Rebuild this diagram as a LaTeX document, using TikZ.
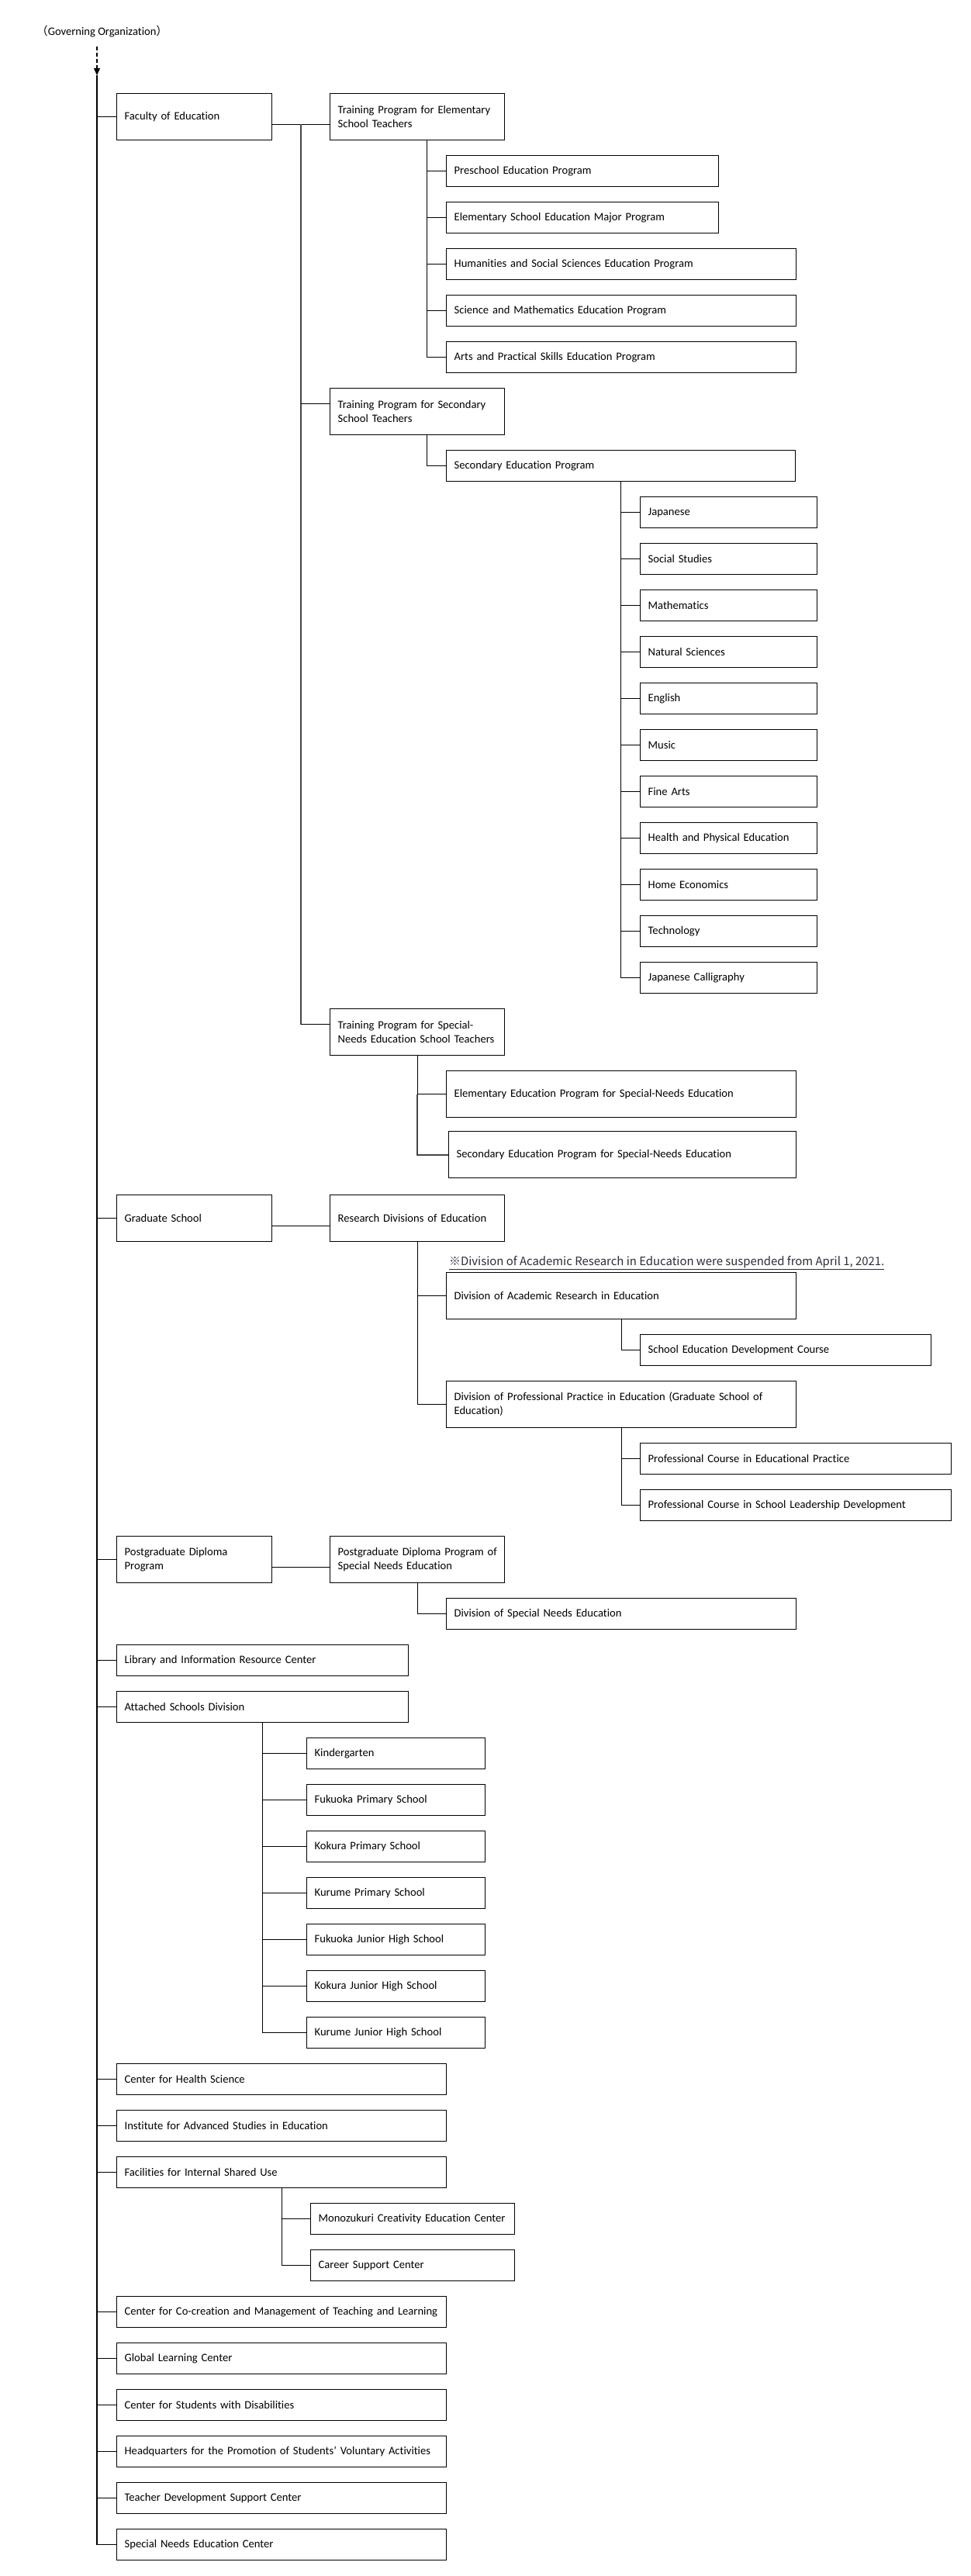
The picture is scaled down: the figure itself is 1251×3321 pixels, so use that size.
\documentclass[tikz,border=0pt]{standalone}
\usepackage{fontspec}
\setmainfont{Carlito}[Ligatures={NoCommon,NoContextual}]
\newfontfamily\cjk{Noto Sans CJK JP}
\usetikzlibrary{arrows.meta}
\definecolor{linegray}{RGB}{70,70,70}
\definecolor{notecol}{RGB}{45,45,60}
\tikzset{
  box/.style={draw, line width=1.3pt, inner xsep=10pt, inner ysep=0pt, anchor=north west, align=left,
    font=\fontsize{14.6}{18}\selectfont},
  link/.style={line width=1.3pt},
  glink/.style={line width=2.2pt, draw=linegray},
}
\newcommand\bx[6]{\node[box, text width=\the\numexpr#4-20\relax pt, minimum height=#5pt] (#1) at (#2,#3) {\mbox{#6}};}
\newcommand\bxx[7]{\node[box, text width=\the\numexpr#4-20\relax pt, minimum height=#5pt] (#1) at (#2,#3) {\mbox{#6}\\\mbox{#7}};}
\begin{document}
\begin{tikzpicture}[x=1pt, y=-1pt]
\fill[white] (0,0) rectangle (1251,3321);
\useasboundingbox (0,0) rectangle (1251,3321);

% governing organization
\node[anchor=west, inner sep=0pt, font=\fontsize{14.6}{18}\selectfont] (gov) at (47,41) {{\cjk （}Governing Organization{\cjk ）}};
\coordinate (gtop) at (125,60);
\coordinate (gtip) at (125,97);
\draw[link, dash pattern=on 5pt off 3pt] (gtop) -- ([yshift=9pt]gtip);
\draw[link, -{Triangle[width=8pt,length=9pt]}] ([yshift=8pt]gtip) -- (gtip);

% level 1
\bx{fac}{150}{120}{200}{60}{Faculty of Education}
\bx{grad}{150}{1540}{200}{60}{Graduate School}
\bxx{pdp}{150}{1980}{200}{60}{Postgraduate Diploma}{Program}
\bx{lib}{150}{2120}{376}{40}{Library and Information Resource Center}
\bx{asd}{150}{2180}{376}{40}{Attached Schools Division}
\bx{chs}{150}{2660}{425}{40}{Center for Health Science}
\bx{ias}{150}{2720}{425}{40}{Institute for Advanced Studies in Education}
\bx{fis}{150}{2780}{425}{40}{Facilities for Internal Shared Use}
\bx{ccm}{150}{2960}{425}{40}{Center for Co-creation and Management of Teaching and Learning}
\bx{glc}{150}{3020}{425}{40}{Global Learning Center}
\bx{csd}{150}{3080}{425}{40}{Center for Students with Disabilities}
\bx{hq}{150}{3140}{425}{40}{Headquarters for the Promotion of Students’ Voluntary Activities}
\bx{tdsc}{150}{3200}{425}{40}{Teacher Development Support Center}
\bx{snec}{150}{3260}{425}{40}{Special Needs Education Center}

% faculty of education
\bxx{te}{425}{120}{225}{60}{Training Program for Elementary}{School Teachers}
\bx{pre}{575}{200}{351}{40}{Preschool Education Program}
\bx{emp}{575}{260}{351}{40}{Elementary School Education Major Program}
\bx{hum}{575}{320}{451}{40}{Humanities and Social Sciences Education Program}
\bx{sci}{575}{380}{451}{40}{Science and Mathematics Education Program}
\bx{art}{575}{440}{451}{40}{Arts and Practical Skills Education Program}
\bxx{ts}{425}{500}{225}{60}{Training Program for Secondary}{School Teachers}
\bx{sep}{575}{580}{450}{40}{Secondary Education Program}
\bx{s1}{825}{640}{228}{40}{Japanese}
\bx{s2}{825}{700}{228}{40}{Social Studies}
\bx{s3}{825}{760}{228}{40}{Mathematics}
\bx{s4}{825}{820}{228}{40}{Natural Sciences}
\bx{s5}{825}{880}{228}{40}{English}
\bx{s6}{825}{940}{228}{40}{Music}
\bx{s7}{825}{1000}{228}{40}{Fine Arts}
\bx{s8}{825}{1060}{228}{40}{Health and Physical Education}
\bx{s9}{825}{1120}{228}{40}{Home Economics}
\bx{s10}{825}{1180}{228}{40}{Technology}
\bx{s11}{825}{1240}{228}{40}{Japanese Calligraphy}
\bxx{tsp}{425}{1300}{225}{60}{Training Program for Special-}{Needs Education School Teachers}
\bx{esp}{575}{1380}{451}{60}{Elementary Education Program for Special-Needs Education}
\bx{ssp}{578}{1458}{448}{60}{Secondary Education Program for Special-Needs Education}

% graduate school
\bx{rde}{425}{1540}{225}{60}{Research Divisions of Education}
\node[anchor=base west, inner sep=0pt, text=notecol, font=\cjk\fontsize{14.9}{16}\selectfont] (note) at (579,1631)
  {\underline{※Division of Academic Research in Education were suspended from April 1, 2021.}};
\bx{dar}{575}{1640}{451}{60}{Division of Academic Research in Education}
\bx{sedc}{825}{1720}{375}{40}{School Education Development Course}
\bxx{dpp}{575}{1780}{451}{60}{Division of Professional Practice in Education (Graduate School of}{Education)}
\bx{pcep}{825}{1860}{401}{40}{Professional Course in Educational Practice}
\bx{pcsl}{825}{1920}{401}{40}{Professional Course in School Leadership Development}

% postgraduate diploma
\bxx{pdsn}{425}{1980}{225}{60}{Postgraduate Diploma Program of}{Special Needs Education}
\bx{dsne}{575}{2060}{451}{40}{Division of Special Needs Education}

% attached schools
\bx{k1}{395}{2240}{230}{40}{Kindergarten}
\bx{k2}{395}{2300}{230}{40}{Fukuoka Primary School}
\bx{k3}{395}{2360}{230}{40}{Kokura Primary School}
\bx{k4}{395}{2420}{230}{40}{Kurume Primary School}
\bx{k5}{395}{2480}{230}{40}{Fukuoka Junior High School}
\bx{k6}{395}{2540}{230}{40}{Kokura Junior High School}
\bx{k7}{395}{2600}{230}{40}{Kurume Junior High School}

% facilities
\bx{mce}{400}{2840}{263}{40}{Monozukuri Creativity Education Center}
\bx{csc}{400}{2900}{263}{40}{Career Support Center}

% ---------- connectors ----------
\draw[link] (gtip) -- (snec.west -| gtip);
\foreach \n in {fac,grad,pdp,lib,asd,chs,ias,fis,ccm,glc,csd,hq,tdsc,snec}
  \draw[link] (\n.west -| gtip) -- (\n.west);

% faculty branch
\coordinate (facOut) at ([yshift=-10pt]fac.east);
\coordinate (teIn) at ([yshift=-10pt]te.west);
\coordinate (brA) at (388,160);
\coordinate (tsIn) at ([yshift=10pt]ts.west);
\coordinate (tspIn) at ([yshift=10pt]tsp.west);
\draw[link] (facOut) -- (teIn);
\draw[glink] (brA) -- (tspIn -| brA);
\draw[link] (tsIn -| brA) -- (tsIn);
\draw[link] (tspIn -| brA) -- (tspIn);
\coordinate (teV) at ([xshift=12.5pt]te.south);
\foreach \c in {pre,emp,hum,sci,art} \draw[link] (teV) |- (\c.west);
\coordinate (tsV) at ([xshift=12.5pt]ts.south);
\draw[link] (tsV) |- (sep.west);
\foreach \c in {s1,s2,s3,s4,s5,s6,s7,s8,s9,s10,s11} \draw[link] (sep.south) |- (\c.west);
\draw[link] (tsp.south) |- (esp.west);
\draw[glink] (tsp.south |- esp.west) |- (ssp.west);

% graduate branch
\coordinate (gradOut) at ([yshift=-10pt]grad.east);
\coordinate (rdeIn) at ([yshift=-10pt]rde.west);
\draw[link] (gradOut) -- (rdeIn);
\foreach \c in {dar,dpp} \draw[link] (rde.south) |- (\c.west);
\draw[link] (dar.south) |- (sedc.west);
\foreach \c in {pcep,pcsl} \draw[link] (dpp.south) |- (\c.west);

% postgraduate branch
\coordinate (pdpOut) at ([yshift=-10pt]pdp.east);
\coordinate (pdsnIn) at ([yshift=-10pt]pdsn.west);
\draw[link] (pdpOut) -- (pdsnIn);
\draw[link] (pdsn.south) |- (dsne.west);

% attached schools
\foreach \c in {k1,k2,k3,k4,k5,k6,k7} \draw[link] (asd.south) |- (\c.west);

% facilities
\foreach \c in {mce,csc} \draw[link] (fis.south) |- (\c.west);
\end{tikzpicture}
\end{document}
